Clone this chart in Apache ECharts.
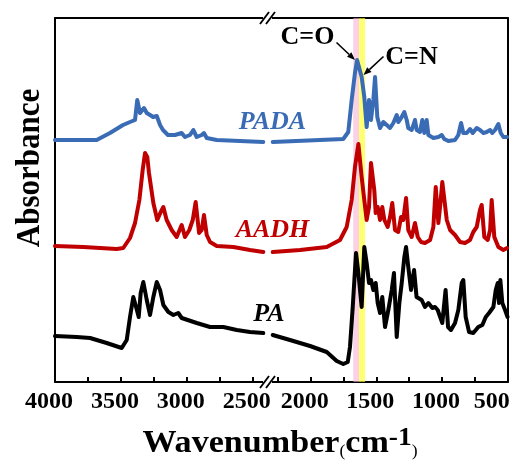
<!DOCTYPE html>
<html>
<head>
<meta charset="utf-8">
<title>FTIR spectra</title>
<script src="https://cdn.jsdelivr.net/npm/echarts@6/dist/echarts.min.js"></script>
<style>
  html, body { margin: 0; padding: 0; background: #fff; }
  #chart { width: 531px; height: 462px; }
</style>
</head>
<body>
<div id="chart"></div>
<script>
// Wavenumbers (cm-1) and absorbance (arbitrary units, spectra offset vertically)
const padaWn = [4000,3684,3583,3484,3431,3393,3376,3355,3325,3304,3279,3256,3228,3203,3181,3143,3090,3039,3014,2976,2951,2925,2887,2870,2849,2773,2420,
  2289,1752,1714,1688,1663,1647,1612,1592,1574,1556,1541,1523,1510,1493,1472,1447,1421,1396,1371,1345,1333,1307,1287,1269,1257,1231,1206,1193,1168,1150,1135,1117,1104,1066,1028,1002,983,952,901,876,855,838,812,787,766,736,711,685,660,634,617,596,571,553,533,505];
const padaAbs = [242,242,249,257,260,262,282,269,274,269,267,265,266,257,252,247,247,249,245,247,252,245,247,249,244,242,240,
  240,243,250,282,309,322,305,285,255,282,262,282,305,265,254,260,257,254,259,267,260,265,270,262,254,252,262,252,250,262,249,262,247,244,245,247,243,241,242,247,259,249,249,253,249,254,252,249,250,252,249,252,258,249,245,245];

const aadhWn = [4000,3785,3532,3482,3431,3393,3360,3335,3317,3300,3287,3254,3224,3198,3178,3153,3115,3077,3039,3014,2981,2955,2933,2907,2887,2870,2849,2824,2773,2647,2521,2420,
  2289,2081,1878,1777,1726,1688,1663,1637,1612,1592,1574,1556,1541,1531,1516,1505,1490,1472,1455,1439,1414,1396,1379,1358,1333,1312,1295,1274,1257,1231,1206,1185,1160,1130,1091,1066,1048,1028,1015,998,983,964,939,901,863,825,787,762,736,711,698,678,652,634,622,602,571,533,505];
const aadhAbs = [136,135,133,134,144,159,182,212,229,225,209,179,162,170,175,162,152,145,157,145,152,162,180,149,152,167,147,140,136,135,132,130,
  130,132,135,142,155,182,215,238,205,182,162,175,219,220,192,169,175,162,175,162,155,165,179,152,150,165,162,184,152,145,159,145,140,139,142,155,195,159,175,200,202,162,152,147,140,139,142,150,155,172,177,145,142,152,182,145,135,132,134];

const paWn = [4000,3835,3734,3608,3494,3456,3431,3406,3385,3365,3350,3330,3304,3279,3254,3228,3203,3178,3140,3102,3065,3039,2925,2824,2723,2621,2521,2420,
  2289,2158,2005,1878,1802,1752,1718,1701,1680,1655,1637,1612,1592,1574,1556,1541,1523,1505,1490,1472,1455,1434,1409,1383,1366,1345,1325,1307,1287,1274,1257,1236,1213,1194,1181,1155,1130,1104,1074,1053,1033,998,973,954,932,901,876,850,838,820,794,762,724,693,667,642,609,591,576,566,556,541,520,501];
const paAbs = [46,45,44,39,34,42,65,85,75,65,89,100,82,67,85,100,92,77,70,67,69,64,59,55,55,52,50,49,
  47,42,36,30,21,18,20,35,75,129,109,75,135,119,99,102,92,99,79,69,85,55,72,92,109,45,79,99,125,135,115,92,112,85,84,82,75,79,74,75,72,59,92,55,52,59,72,99,102,65,50,49,55,57,65,69,75,92,99,79,102,79,72,65];

// Axis ticks and labels on either side of the break
const leftTicks = [4000,3750,3500,3250,3000,2750,2500];
const leftLabels = [4000,3500,3000,2500];
const rightTicks = [2250,2000,1750,1500,1250,1000,750,500];
const rightLabels = [2000,1500,1000,500];

// Omitted wavenumber range between the two panels
const breakHigh = 2388;
const breakLow = 2329;

// Highlighted bands
const bandCO = [1676, 1632];
const bandCN = [1632, 1586];

const spectra = [
  { name: 'PADA', wn: padaWn, abs: padaAbs, color: '#3a6cb5' },
  { name: 'AADH', wn: aadhWn, abs: aadhAbs, color: '#c00000' },
  { name: 'PA',   wn: paWn,   abs: paAbs,   color: '#000000' }
];

const FONT = '"Liberation Serif", "Times New Roman", serif';
const AXIS_COLOR = '#000';

function segment(s, leftSide) {
  return s.wn.map((w, i) => [w, s.abs[i]])
    .filter(p => leftSide ? p[0] >= breakHigh : p[0] <= breakLow);
}

const series = [];
spectra.forEach(s => {
  [true, false].forEach(leftSide => {
    series.push({
      name: s.name,
      type: 'line',
      xAxisIndex: leftSide ? 0 : 1,
      yAxisIndex: leftSide ? 0 : 1,
      data: segment(s, leftSide),
      showSymbol: false,
      silent: true,
      animation: false,
      lineStyle: { color: s.color, width: 4, join: 'round', cap: 'round' }
    });
  });
});

// Translucent bands drawn over the spectra
series.push({
  type: 'line',
  xAxisIndex: 1,
  yAxisIndex: 1,
  data: [],
  z: 10,
  silent: true,
  animation: false,
  markArea: {
    silent: true,
    data: [
      [{ xAxis: bandCO[0], itemStyle: { color: 'rgba(248,178,214,0.6)' } }, { xAxis: bandCO[1] }],
      [{ xAxis: bandCN[0], itemStyle: { color: 'rgba(255,255,40,0.65)' } }, { xAxis: bandCN[1] }]
    ]
  }
});

const tickFont = { fontFamily: FONT, fontWeight: 'bold', fontSize: 24, color: '#000' };

function bottomAxis(gridIndex, min, max, ticks, labels) {
  return {
    type: 'value', gridIndex, min, max, inverse: true, position: 'bottom',
    axisLine: { show: true, onZero: false, lineStyle: { color: AXIS_COLOR, width: 2 } },
    axisTick: { show: true, inside: true, length: 5, customValues: ticks, lineStyle: { color: AXIS_COLOR, width: 2 } },
    axisLabel: Object.assign({
      customValues: labels, margin: 8,
      // last label sits flush with the right frame edge
      formatter: v => (v === 500 ? '{end|' + v + '}' : '{n|' + v + '}'),
      rich: {
        n: Object.assign({ padding: [0, 12, 0, 0] }, tickFont),
        end: Object.assign({ padding: [0, 32, 0, 0] }, tickFont)
      }
    }, tickFont),
    splitLine: { show: false }
  };
}
function topAxis(gridIndex, min, max) {
  return {
    type: 'value', gridIndex, min, max, inverse: true, position: 'top',
    axisLine: { show: true, onZero: false, lineStyle: { color: AXIS_COLOR, width: 2 } },
    axisTick: { show: false }, axisLabel: { show: false }, splitLine: { show: false }
  };
}
function sideAxis(gridIndex, position) {
  return {
    type: 'value', gridIndex, min: 0, max: 364, position,
    axisLine: { show: true, onZero: false, lineStyle: { color: AXIS_COLOR, width: 2 } },
    axisTick: { show: false }, axisLabel: { show: false }, splitLine: { show: false }
  };
}

function arrow(x1, y1, x2, y2) {
  const dx = x2 - x1, dy = y2 - y1, len = Math.hypot(dx, dy);
  const ux = dx / len, uy = dy / len, head = 8, half = 3.2;
  const bx = x2 - ux * head, by = y2 - uy * head;
  return [
    { type: 'line', z: 100, shape: { x1, y1, x2: bx, y2: by }, style: { stroke: '#000', lineWidth: 1.6 } },
    { type: 'polygon', z: 100, shape: { points: [[x2, y2], [bx - uy * half, by + ux * half], [bx + uy * half, by - ux * half]] }, style: { fill: '#000' } }
  ];
}
function breakMark(cx, cy) {
  return [
    { type: 'rect', z: 100, shape: { x: cx - 4.5, y: cy - 3, width: 9, height: 6 }, style: { fill: '#fff' } },
    { type: 'line', z: 101, shape: { x1: cx - 7.5, y1: cy + 6, x2: cx + 1.5, y2: cy - 6 }, style: { stroke: '#000', lineWidth: 1.8 } },
    { type: 'line', z: 101, shape: { x1: cx - 1.5, y1: cy + 6, x2: cx + 7.5, y2: cy - 6 }, style: { stroke: '#000', lineWidth: 1.8 } }
  ];
}

const graphic = [].concat(
  breakMark(267.5, 18),
  breakMark(267.5, 382),
  arrow(336.5, 42.5, 355, 60),
  arrow(383.5, 56.5, 363.5, 75),
  [
    { type: 'text', z: 100, x: 30, y: 168, rotation: Math.PI / 2, scaleY: 1.12,
      style: { text: 'Absorbance', font: 'bold 31px ' + FONT, fill: '#000', align: 'center', verticalAlign: 'middle' } },
    { type: 'text', z: 100, x: 280, y: 443, scaleX: 1.1,
      style: {
        text: '{a|Wavenumber}{p|(}{a|cm}{s|-1}{p|)}', align: 'center', verticalAlign: 'middle',
        rich: {
          a: { fontFamily: FONT, fontWeight: 'bold', fontSize: 31, fill: '#000', verticalAlign: 'bottom' },
          p: { fontFamily: FONT, fontWeight: 'normal', fontSize: 16, fill: '#000', verticalAlign: 'bottom' },
          s: { fontFamily: FONT, fontWeight: 'bold', fontSize: 25, fill: '#000', verticalAlign: 'bottom', padding: [0, 0, 8, 0] }
        }
      } },
    { type: 'text', z: 100, x: 272.5, y: 122,
      style: { text: 'PADA', font: 'italic bold 26px ' + FONT, fill: '#3a6cb5', align: 'center', verticalAlign: 'middle' } },
    { type: 'text', z: 100, x: 272.5, y: 230,
      style: { text: 'AADH', font: 'italic bold 26px ' + FONT, fill: '#c00000', align: 'center', verticalAlign: 'middle' } },
    { type: 'text', z: 100, x: 269, y: 314,
      style: { text: 'PA', font: 'italic bold 26px ' + FONT, fill: '#000', align: 'center', verticalAlign: 'middle' } },
    { type: 'text', z: 100, x: 307.5, y: 37,
      style: { text: 'C=O', font: 'bold 26px ' + FONT, fill: '#000', align: 'center', verticalAlign: 'middle' } },
    { type: 'text', z: 100, x: 411.5, y: 57.5,
      style: { text: 'C=N', font: 'bold 26px ' + FONT, fill: '#000', align: 'center', verticalAlign: 'middle' } }
  ]
);

const chart = echarts.init(document.getElementById('chart'), null, { renderer: 'canvas' });
chart.setOption({
  animation: false,
  backgroundColor: '#fff',
  grid: [
    { left: 55, top: 18, width: 212.5, height: 364, outerBoundsMode: 'none' },
    { left: 267.5, top: 18, width: 240.2, height: 364, outerBoundsMode: 'none' }
  ],
  xAxis: [
    bottomAxis(0, breakHigh, 4000, leftTicks, leftLabels),
    bottomAxis(1, 500, breakLow, rightTicks, rightLabels),
    topAxis(0, breakHigh, 4000),
    topAxis(1, 500, breakLow)
  ],
  yAxis: [sideAxis(0, 'left'), sideAxis(1, 'right')],
  series,
  graphic
});
</script>
</body>
</html>
